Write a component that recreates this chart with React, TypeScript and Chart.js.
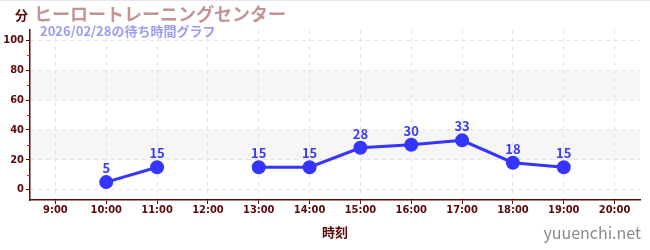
import React, { useEffect, useRef } from "react";
import { Chart, registerables } from "chart.js";

Chart.register(...registerables);

const categories = ["9:00", "10:00", "11:00", "12:00", "13:00", "14:00", "15:00", "16:00", "17:00", "18:00", "19:00", "20:00"];
const waitMinutes: (number | null)[] = [null, 5, 15, null, 15, 15, 28, 30, 33, 18, 15, null];
const yTicks = [0, 20, 40, 60, 80, 100];
const minorTicks = [10, 30, 50, 70, 90];
const bands: [number, number][] = [[20, 40], [60, 80]];
const titleText = "ヒーロートレーニングセンター";
const subtitleText = "2026/02/28の待ち時間グラフ";
const unitText = "分";
const xTitle = "時刻";
const siteText = "yuuenchi.net";

const AXIS = "#5a0a0a";
const LINE = "#3535ff";
const CJK = "'Noto Sans CJK JP', 'Noto Sans', sans-serif";
const COND = "'DejaVu Sans Condensed', 'Liberation Sans Narrow', 'Noto Sans', sans-serif";

const decorPlugin = {
  id: "decor",
  beforeDraw(chart: any) {
    const { ctx, chartArea, scales } = chart;
    const y = scales.y;
    ctx.save();
    ctx.fillStyle = "#f6f6f6";
    for (const [a, b] of bands) {
      const top = y.getPixelForValue(b);
      const bot = y.getPixelForValue(a);
      ctx.fillRect(chartArea.left, top, chartArea.right - chartArea.left, bot - top);
    }
    ctx.restore();
  },
  afterDraw(chart: any) {
    const { ctx, chartArea, scales } = chart;
    const y = scales.y;
    ctx.save();
    ctx.strokeStyle = "#dd2222";
    ctx.lineWidth = 1;
    for (const v of minorTicks) {
      const py = Math.round(y.getPixelForValue(v)) + 0.5;
      ctx.beginPath();
      ctx.moveTo(chartArea.left - 3, py);
      ctx.lineTo(chartArea.left, py);
      ctx.stroke();
    }
    ctx.strokeStyle = "#e6e6f2";
    ctx.beginPath();
    ctx.moveTo(0, 0.5);
    ctx.lineTo(chart.width, 0.5);
    ctx.stroke();

    ctx.textBaseline = "middle";
    ctx.textAlign = "left";
    ctx.fillStyle = AXIS;
    ctx.font = `bold 13px ${CJK}`;
    ctx.fillText(unitText, 15, 15);
    ctx.fillStyle = "#c49494";
    ctx.font = `bold 18px ${CJK}`;
    ctx.fillText(titleText, 34, 14);
    ctx.fillStyle = "#9c9cf2";
    ctx.font = `bold 13px ${CJK}`;
    ctx.fillText(subtitleText, 40, 31);
    ctx.fillStyle = "#8a8a8a";
    ctx.font = `16px ${CJK}`;
    ctx.textAlign = "right";
    ctx.fillText(siteText, 641, 233);

    const meta = chart.getDatasetMeta(0);
    ctx.fillStyle = "#3a3af0";
    ctx.font = `bold 13px ${CJK}`;
    ctx.textAlign = "center";
    ctx.textBaseline = "alphabetic";
    meta.data.forEach((pt: any, i: number) => {
      const v = waitMinutes[i];
      if (v === null || v === undefined) return;
      ctx.fillText(String(v), pt.x, pt.y - 9);
    });
    ctx.restore();
  },
};

export default function App() {
  const ref = useRef<HTMLCanvasElement | null>(null);
  useEffect(() => {
    if (!ref.current) return;
    const chart = new Chart(ref.current, {
      type: "line",
      data: {
        labels: categories,
        datasets: [
          {
            data: waitMinutes,
            borderColor: LINE,
            backgroundColor: LINE,
            borderWidth: 3,
            pointRadius: 5.5,
            pointHoverRadius: 5.5,
            pointBackgroundColor: LINE,
            pointBorderColor: LINE,
            spanGaps: false,
            tension: 0,
          },
        ],
      },
      options: {
        animation: false,
        responsive: false,
        maintainAspectRatio: false,
        events: [],
        layout: { padding: { left: 0, right: 10, top: 30, bottom: 0 } },
        plugins: { legend: { display: false }, tooltip: { enabled: false }, title: { display: false } },
        scales: {
          x: {
            type: "category",
            offset: true,
            afterFit: (s: any) => { s.height = 50; },
            grid: { display: true, color: "#e4e4e4", tickColor: AXIS, tickLength: 4, offset: false },
            border: { display: true, color: AXIS, width: 1.5, dash: [4, 4] },
            ticks: { color: AXIS, font: { family: COND, size: 11, weight: "bold" }, padding: 0, maxRotation: 0, autoSkip: false },
            title: { display: true, text: xTitle, color: AXIS, font: { family: CJK, size: 13, weight: "bold" }, padding: { top: 4, bottom: 10 } },
          },
          y: {
            min: -7,
            max: 107,
            afterFit: (s: any) => { s.width = 30; },
            afterBuildTicks: (s: any) => { s.ticks = yTicks.map((v) => ({ value: v })); },
            grid: { color: "#e4e4e4", tickColor: AXIS, tickLength: 4 },
            border: { display: true, color: AXIS, width: 1.5, dash: [4, 4] },
            ticks: { color: AXIS, font: { family: COND, size: 11, weight: "bold" }, padding: 2 },
          },
        },
      },
      plugins: [decorPlugin],
    } as any);
    return () => chart.destroy();
  }, []);
  return (
    <div style={{ position: "absolute", left: 0, top: 0, width: 650, height: 250, background: "#fff" }}>
      <canvas ref={ref} width={650} height={250} style={{ width: 650, height: 250, display: "block" }} />
    </div>
  );
}
